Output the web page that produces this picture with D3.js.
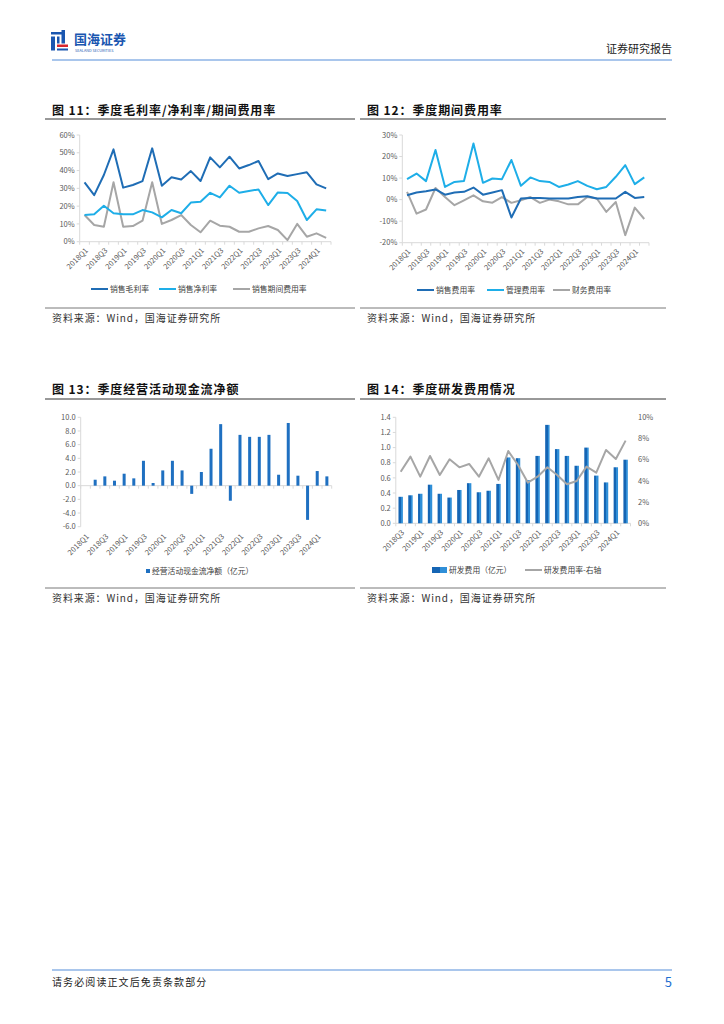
<!DOCTYPE html>
<html><head><meta charset="utf-8">
<script src="https://cdn.jsdelivr.net/npm/d3@7"></script>
<style>
html,body{margin:0;padding:0;background:#fff;}
svg text{font-family:"Noto Sans CJK SC","Noto Sans",sans-serif;}
</style></head>
<body><div id="root"></div>
<script>
// ---------- DATA ----------
const quarters = ["2018Q1","2018Q2","2018Q3","2018Q4","2019Q1","2019Q2","2019Q3","2019Q4","2020Q1","2020Q2","2020Q3","2020Q4","2021Q1","2021Q2","2021Q3","2021Q4","2022Q1","2022Q2","2022Q3","2022Q4","2023Q1","2023Q2","2023Q3","2023Q4","2024Q1","2024Q2"];
const grossMargin = [33.4,26.2,37.5,51.9,30.4,31.9,34.1,52.5,31.5,36.2,35.0,39.7,34.1,47.4,41.8,47.8,41.2,43.1,45.4,35.2,38.4,36.9,38.0,39.0,32.2,30.0];
const netMargin = [15.0,15.4,20.2,16.0,15.4,15.4,17.8,16.5,13.7,17.8,16.0,22.0,22.5,27.5,24.9,31.5,27.5,28.5,29.4,20.6,27.7,27.4,22.9,12.2,18.2,17.5];
const periodExpRatio = [15.0,9.4,8.4,33.4,8.4,8.8,11.8,33.4,10.0,12.2,15.0,9.4,5.3,11.8,9.0,8.4,5.6,5.6,7.5,8.8,6.6,0.9,10.0,2.8,4.7,2.2];

const salesExpRatio = [2.0,3.3,3.9,4.7,2.3,3.3,3.6,5.6,2.3,3.3,4.4,-8.3,0.5,0.8,0.8,0.5,0.5,0.5,1.2,1.6,0.5,0.5,0.5,3.6,0.8,1.2];
const adminExpRatio = [9.5,12.1,8.6,23.0,5.9,8.2,8.6,26.1,7.8,9.8,9.5,18.4,6.4,10.3,8.6,8.2,5.9,7.0,8.6,6.4,4.8,5.9,10.6,16.0,7.2,10.3];
const finExpRatio = [3.6,-6.5,-4.6,5.4,1.2,-2.6,-0.3,2.0,-0.8,-1.4,1.2,-1.5,-0.3,1.2,-1.5,0.0,-0.8,-2.2,-2.2,1.2,0.5,-5.7,-1.1,-16.5,-3.7,-9.0];

const operCashFlow = [null,0.87,1.36,0.73,1.75,1.07,3.64,0.39,2.23,3.64,2.23,-1.2,2.0,5.4,9.0,-2.2,7.43,7.14,7.14,7.43,1.6,9.17,1.46,-5.0,2.14,1.36];

const rdQuarters = ["2018Q3","2018Q4","2019Q1","2019Q2","2019Q3","2019Q4","2020Q1","2020Q2","2020Q3","2020Q4","2021Q1","2021Q2","2021Q3","2021Q4","2022Q1","2022Q2","2022Q3","2022Q4","2023Q1","2023Q2","2023Q3","2023Q4","2024Q1","2024Q2"];
const rdExpense = [0.35,0.37,0.39,0.51,0.39,0.34,0.44,0.53,0.41,0.43,0.52,0.87,0.86,0.57,0.89,1.30,0.98,0.89,0.76,1.00,0.63,0.54,0.74,0.84];
const rdRatio = [4.87,6.29,4.4,6.35,4.56,6.04,5.28,5.6,4.4,6.13,4.09,6.82,5.5,3.84,4.4,5.28,4.56,3.68,3.99,5.35,4.78,6.92,6.07,7.8];

const pctTicks11 = [0,10,20,30,40,50,60];
const pctTicks12 = [-20,-10,0,10,20,30];
const cashTicks = [-6,-4,-2,0,2,4,6,8,10];
const rdTicks = [0,0.2,0.4,0.6,0.8,1.0,1.2,1.4];
const rdRatioTicks = [0,2,4,6,8,10];

const C_DARK = "#1f6db5", C_LIGHT = "#1eaee8", C_GRAY = "#a6a6a6", C_BAR = "#1f70c1";
const AXIS = "#d9d9d9", TXT = "#595959";

// ---------- PAGE ----------
const svg = d3.select("#root").append("svg").attr("width",724).attr("height",1024);
svg.append("rect").attr("width",724).attr("height",1024).attr("fill","#fff");

// header logo
const logo = svg.append("g");
logo.append("rect").attr("x",51).attr("y",32).attr("width",12).attr("height",2.5).attr("fill","#1a56b0");
logo.append("rect").attr("x",51).attr("y",36.5).attr("width",4).attr("height",14).attr("fill","#1a56b0");
logo.append("rect").attr("x",57).attr("y",36.5).attr("width",2.5).attr("height",7).attr("fill","#1a56b0");
logo.append("rect").attr("x",61.5).attr("y",30).attr("width",3.5).attr("height",13.5).attr("fill","#1a56b0");
logo.append("rect").attr("x",57).attr("y",44.5).attr("width",11).attr("height",2.5).attr("fill","#d7262e");
logo.append("rect").attr("x",57).attr("y",48.5).attr("width",11).attr("height",2).attr("fill","#1a56b0");
svg.append("text").attr("x",74).attr("y",44).attr("font-size",13).attr("font-weight","bold").attr("fill","#1a56b0").text("国海证券");
svg.append("text").attr("x",75).attr("y",51.5).attr("font-size",3.8).attr("fill","#1a56b0").text("SEALAND SECURITIES");
svg.append("text").attr("x",672).attr("y",53).attr("text-anchor","end").attr("font-size",11).attr("fill","#222").text("证券研究报告");
svg.append("line").attr("x1",52).attr("x2",672).attr("y1",60).attr("y2",60).attr("stroke","#8db3e6").attr("stroke-width",1.6);

// footer
svg.append("line").attr("x1",52).attr("x2",672).attr("y1",970).attr("y2",970).attr("stroke","#8db3e6").attr("stroke-width",1.6);
svg.append("text").attr("x",52).attr("y",986).attr("font-size",10).attr("letter-spacing",1.1).attr("fill","#222").text("请务必阅读正文后免责条款部分");
svg.append("text").attr("x",672).attr("y",987).attr("text-anchor","end").attr("font-size",13).attr("fill","#1f6fd1").text("5");

function frame(x0, x1, titleY, lineY, srcLineY, title){
  svg.append("text").attr("x",x0+7).attr("y",titleY).attr("font-size",12).attr("letter-spacing",0.9).attr("font-weight","bold").attr("fill","#111").text(title);
  svg.append("line").attr("x1",x0).attr("x2",x1).attr("y1",lineY).attr("y2",lineY).attr("stroke","#333").attr("stroke-width",1);
  svg.append("line").attr("x1",x0).attr("x2",x1).attr("y1",srcLineY).attr("y2",srcLineY).attr("stroke","#555").attr("stroke-width",0.8);
  svg.append("text").attr("x",x0+7).attr("y",srcLineY+14).attr("font-size",10).attr("letter-spacing",0.9).attr("fill","#333").text("资料来源：Wind，国海证券研究所");
}
frame(45,355,115,119,308,"图 11：季度毛利率/净利率/期间费用率");
frame(360,666,115,119,308,"图 12：季度期间费用率");
frame(45,355,394,399,588,"图 13：季度经营活动现金流净额");
frame(360,666,394,399,588,"图 14：季度研发费用情况");

// ---------- helpers ----------
function yAxisLeft(g, y, ticks, fmt, xAxis){
  g.append("line").attr("x1",xAxis).attr("x2",xAxis).attr("y1",y(ticks[ticks.length-1])).attr("y2",y(ticks[0])).attr("stroke",AXIS);
  ticks.forEach(t=>{
    g.append("line").attr("x1",xAxis-3).attr("x2",xAxis).attr("y1",y(t)).attr("y2",y(t)).attr("stroke",AXIS);
    g.append("text").attr("x",xAxis-5).attr("y",y(t)+2.7).attr("text-anchor","end").attr("font-size",7.5).attr("fill",TXT).text(fmt(t));
  });
}
function xAxisCat(g, x, cats, axisY, labelY, every){
  const [r0,r1] = x.range();
  g.append("line").attr("x1",r0).attr("x2",r1).attr("y1",axisY).attr("y2",axisY).attr("stroke",AXIS);
  const step = x.step();
  for(let i=0;i<=cats.length;i++){
    const xx = r0 + i*step;
    g.append("line").attr("x1",xx).attr("x2",xx).attr("y1",axisY).attr("y2",axisY+3).attr("stroke",AXIS);
  }
  cats.forEach((c,i)=>{
    if(i%every!==0) return;
    const cx = x(c)+x.bandwidth()/2;
    g.append("text").attr("transform",`translate(${cx+4},${labelY}) rotate(-45)`).attr("text-anchor","end")
      .attr("font-size",7.5).attr("fill",TXT).text(c);
  });
}
function drawLine(g, x, y, cats, vals, color){
  const line = d3.line().defined(d=>d[1]!=null).x(d=>x(d[0])+x.bandwidth()/2).y(d=>y(d[1]));
  g.append("path").datum(cats.map((c,i)=>[c,vals[i]])).attr("d",line).attr("fill","none")
    .attr("stroke",color).attr("stroke-width",2).attr("stroke-linejoin","round");
}
function legendLine(g, x, y, color, label){
  g.append("line").attr("x1",x).attr("x2",x+17).attr("y1",y).attr("y2",y).attr("stroke",color).attr("stroke-width",2);
  g.append("text").attr("x",x+19).attr("y",y+3).attr("font-size",7.8).attr("fill","#404040").text(label);
}

// ---------- Chart 11 ----------
{
  const g = svg.append("g");
  const x = d3.scaleBand().domain(quarters).range([79.7,331]);
  const y = d3.scaleLinear().domain([0,60]).range([241.7,135]);
  yAxisLeft(g, y, pctTicks11, d=>d+"%", 79.7);
  xAxisCat(g, x, quarters, y(0), 251, 2);
  drawLine(g, x, y, quarters, periodExpRatio, C_GRAY);
  drawLine(g, x, y, quarters, netMargin, C_LIGHT);
  drawLine(g, x, y, quarters, grossMargin, C_DARK);
  legendLine(g, 91, 289, C_DARK, "销售毛利率");
  legendLine(g, 159, 289, C_LIGHT, "销售净利率");
  legendLine(g, 233, 289, C_GRAY, "销售期间费用率");
}
// ---------- Chart 12 ----------
{
  const g = svg.append("g");
  const x = d3.scaleBand().domain(quarters).range([402.3,649]);
  const y = d3.scaleLinear().domain([-20,30]).range([242.7,135]);
  yAxisLeft(g, y, pctTicks12, d=>d+"%", 402.3);
  xAxisCat(g, x, quarters, y(-20), 252, 2);
  drawLine(g, x, y, quarters, finExpRatio, C_GRAY);
  drawLine(g, x, y, quarters, adminExpRatio, C_LIGHT);
  drawLine(g, x, y, quarters, salesExpRatio, C_DARK);
  legendLine(g, 417, 290, C_DARK, "销售费用率");
  legendLine(g, 487, 290, C_LIGHT, "管理费用率");
  legendLine(g, 553, 290, C_GRAY, "财务费用率");
}
// ---------- Chart 13 ----------
{
  const g = svg.append("g");
  const x = d3.scaleBand().domain(quarters).range([80.7,331.7]);
  const y = d3.scaleLinear().domain([-6,10]).range([526.7,417.3]);
  yAxisLeft(g, y, cashTicks, d=>d.toFixed(1), 80.7);
  xAxisCat(g, x, quarters, y(0), 537, 2);
  const bw = 3;
  g.selectAll("rect.b").data(quarters.map((c,i)=>[c,operCashFlow[i]]).filter(d=>d[1]!=null)).enter().append("rect")
    .attr("x",d=>x(d[0])+x.bandwidth()/2-bw/2).attr("width",bw)
    .attr("y",d=>y(Math.max(0,d[1]))).attr("height",d=>Math.abs(y(d[1])-y(0)))
    .attr("fill",C_BAR);
  g.append("rect").attr("x",146).attr("y",569).attr("width",4).attr("height",4).attr("fill",C_BAR);
  g.append("text").attr("x",152).attr("y",574).attr("font-size",7.8).attr("fill","#404040").text("经营活动现金流净额（亿元）");
}
// ---------- Chart 14 ----------
{
  const g = svg.append("g");
  const defs = svg.append("defs");
  const grad = defs.append("linearGradient").attr("id","rdg").attr("x1","0").attr("x2","1").attr("y1","0").attr("y2","0");
  grad.append("stop").attr("offset","0").attr("stop-color","#1565b4");
  grad.append("stop").attr("offset","0.55").attr("stop-color","#1565b4");
  grad.append("stop").attr("offset","0.55").attr("stop-color","#2f8fd8");
  grad.append("stop").attr("offset","1").attr("stop-color","#2f8fd8");
  const x = d3.scaleBand().domain(rdQuarters).range([395.8,630.5]);
  const y = d3.scaleLinear().domain([0,1.4]).range([523.3,417.3]);
  const y2 = d3.scaleLinear().domain([0,10]).range([523.3,417.3]);
  yAxisLeft(g, y, rdTicks, d=>d.toFixed(1), 395.8);
  rdRatioTicks.forEach(t=>{
    g.append("text").attr("x",638).attr("y",y2(t)+2.7).attr("font-size",7.5).attr("fill",TXT).text(t+"%");
  });
  xAxisCat(g, x, rdQuarters, y(0), 533, 2);
  const bw = 4.4;
  g.selectAll("rect.b").data(rdQuarters.map((c,i)=>[c,rdExpense[i]])).enter().append("rect")
    .attr("x",d=>x(d[0])+x.bandwidth()/2-bw/2).attr("width",bw)
    .attr("y",d=>y(d[1])).attr("height",d=>y(0)-y(d[1]))
    .attr("fill","url(#rdg)");
  drawLine(g, x, y2, rdQuarters, rdRatio, C_GRAY);
  g.append("rect").attr("x",432).attr("y",567).attr("width",15).attr("height",6).attr("fill","url(#rdg)");
  g.append("text").attr("x",449).attr("y",573).attr("font-size",7.8).attr("fill","#404040").text("研发费用（亿元）");
  g.append("line").attr("x1",525).attr("x2",542).attr("y1",570).attr("y2",570).attr("stroke",C_GRAY).attr("stroke-width",2);
  g.append("text").attr("x",544).attr("y",573).attr("font-size",7.8).attr("fill","#404040").text("研发费用率-右轴");
}
</script></body></html>
